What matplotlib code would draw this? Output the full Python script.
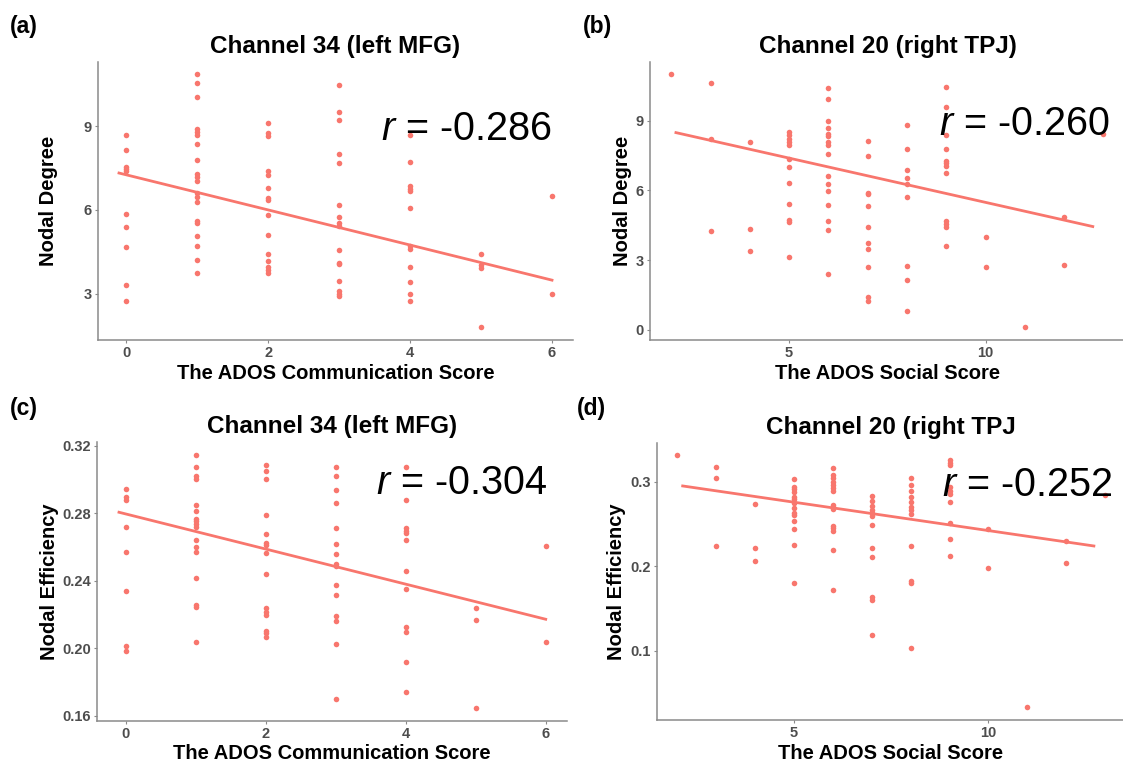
#!/usr/bin/env python3
"""
plot.py - four scatter panels: ADOS scores vs nodal degree / efficiency.
"""

import numpy as np
import matplotlib
matplotlib.use("Agg")
import matplotlib.pyplot as plt


# ─── dados ───────────────────────────────────────────────────────────────

# (a) Channel 34, communication score vs nodal degree
a_score = [0, 0, 0, 0, 0, 0, 0, 0, 0, 0,
           1, 1, 1, 1, 1, 1, 1, 1, 1, 1, 1, 1, 1, 1, 1, 1, 1, 1, 1, 1,
           2, 2, 2, 2, 2, 2, 2, 2, 2, 2, 2, 2, 2, 2, 2,
           3, 3, 3, 3, 3, 3, 3, 3, 3, 3, 3, 3, 3, 3, 3, 3,
           4, 4, 4, 4, 4, 4, 4, 4, 4, 4, 4, 4,
           5, 5, 5, 5,
           6, 6]
a_degree = [8.68, 8.16, 7.54, 7.48, 7.38, 5.86, 5.39, 4.67, 3.30, 2.74,
            10.85, 10.54, 10.03, 8.89, 8.79, 8.69, 8.34, 7.80, 7.30, 7.18,
            7.05, 6.61, 6.46, 6.30, 5.61, 5.54, 5.06, 4.71, 4.21, 3.73,
            9.10, 8.75, 8.63, 7.39, 7.25, 6.78, 6.42, 6.35, 5.81, 5.11,
            4.41, 4.17, 3.96, 3.85, 3.75,
            10.46, 9.51, 9.20, 8.01, 7.68, 6.17, 5.73, 5.54, 5.44, 4.56,
            4.12, 4.07, 3.46, 3.11, 3.01, 2.93,
            8.67, 7.71, 6.85, 6.76, 6.68, 6.07, 4.70, 4.62, 3.95, 3.41,
            3.01, 2.74,
            4.43, 4.03, 3.93, 1.80,
            6.51, 3.01]
# fitted line as drawn in the figure (end points)
a_fit_x = [-0.1, 6.0]
a_fit_y = [7.32, 3.49]

# (b) Channel 20, social score vs nodal degree
b_score = [2,
           3, 3, 3,
           4, 4, 4,
           5, 5, 5, 5, 5, 5, 5, 5, 5, 5, 5, 5,
           6, 6, 6, 6, 6, 6, 6, 6, 6, 6, 6, 6, 6, 6, 6, 6,
           7, 7, 7, 7, 7, 7, 7, 7, 7, 7, 7,
           8, 8, 8, 8, 8, 8, 8, 8, 8,
           9, 9, 9, 9, 9, 9, 9, 9, 9, 9, 9, 9,
           10, 10,
           11,
           12, 12,
           13]
b_degree = [11.00,
            10.63, 8.19, 4.24,
            8.06, 4.33, 3.38,
            8.50, 8.37, 8.22, 8.06, 7.95, 7.33, 6.98, 6.33, 5.41, 4.73,
            4.64, 3.11,
            10.39, 9.91, 9.00, 8.69, 8.42, 8.35, 8.09, 7.96, 7.55, 6.60,
            6.26, 5.99, 5.36, 4.66, 4.30, 2.41,
            8.11, 7.49, 5.90, 5.84, 5.31, 4.44, 3.75, 3.47, 2.71, 1.43, 1.22,
            8.81, 7.77, 6.88, 6.52, 6.26, 5.69, 2.76, 2.12, 0.79,
            10.46, 9.60, 8.38, 7.77, 7.28, 7.16, 7.05, 6.73, 4.66, 4.56,
            4.44, 3.62,
            4.01, 2.68,
            0.12,
            4.83, 2.79,
            8.41]
b_fit_x = [2.12, 12.73]
b_fit_y = [8.48, 4.44]

# (c) Channel 34, communication score vs nodal efficiency
c_score = [0, 0, 0, 0, 0, 0, 0, 0,
           1, 1, 1, 1, 1, 1, 1, 1, 1, 1, 1, 1, 1, 1, 1, 1, 1,
           2, 2, 2, 2, 2, 2, 2, 2, 2, 2, 2, 2, 2, 2, 2,
           3, 3, 3, 3, 3, 3, 3, 3, 3, 3, 3, 3, 3, 3, 3,
           4, 4, 4, 4, 4, 4, 4, 4, 4, 4, 4, 4,
           5, 5, 5,
           6, 6]
c_eff = [0.2947, 0.2900, 0.2880, 0.2718, 0.2572, 0.2339, 0.2017, 0.1983,
         0.3149, 0.3076, 0.3022, 0.3006, 0.2852, 0.2813, 0.2769, 0.2757,
         0.2738, 0.2722, 0.2643, 0.2603, 0.2574, 0.2418, 0.2258, 0.2248,
         0.2040,
         0.3084, 0.3054, 0.3004, 0.2793, 0.2679, 0.2623, 0.2612, 0.2564,
         0.2443, 0.2238, 0.2216, 0.2197, 0.2106, 0.2090, 0.2070,
         0.3077, 0.3022, 0.2939, 0.2860, 0.2716, 0.2619, 0.2562, 0.2499,
         0.2491, 0.2376, 0.2319, 0.2193, 0.2163, 0.2027, 0.1699,
         0.3073, 0.2880, 0.2712, 0.2696, 0.2683, 0.2641, 0.2459, 0.2353,
         0.2129, 0.2098, 0.1922, 0.1742,
         0.2238, 0.2169, 0.1649,
         0.2607, 0.2036]
c_fit_x = [-0.1, 6.0]
c_fit_y = [0.2807, 0.2173]

# (d) Channel 20, social score vs nodal efficiency
d_score = [2,
           3, 3, 3,
           4, 4, 4,
           5, 5, 5, 5, 5, 5, 5, 5, 5, 5, 5, 5, 5, 5,
           6, 6, 6, 6, 6, 6, 6, 6, 6, 6, 6, 6, 6, 6, 6,
           7, 7, 7, 7, 7, 7, 7, 7, 7, 7, 7, 7,
           8, 8, 8, 8, 8, 8, 8, 8, 8, 8, 8, 8,
           9, 9, 9, 9, 9, 9, 9, 9, 9, 9,
           10, 10,
           11,
           12, 12,
           13]
d_eff = [0.3324,
         0.3178, 0.3047, 0.2241,
         0.2743, 0.2213, 0.2067,
         0.3040, 0.2937, 0.2913, 0.2885, 0.2826, 0.2798, 0.2747, 0.2692,
         0.2632, 0.2609, 0.2537, 0.2439, 0.2256, 0.1798,
         0.3162, 0.3083, 0.3044, 0.3004, 0.2964, 0.2925, 0.2893, 0.2727,
         0.2700, 0.2676, 0.2478, 0.2451, 0.2419, 0.2190, 0.1723,
         0.2834, 0.2775, 0.2715, 0.2668, 0.2628, 0.2600, 0.2490, 0.2213,
         0.2114, 0.1639, 0.1600, 0.1185,
         0.3044, 0.2964, 0.2893, 0.2826, 0.2767, 0.2700, 0.2668, 0.2620,
         0.2241, 0.1826, 0.1798, 0.1034,
         0.3261, 0.3229, 0.3202, 0.2945, 0.2897, 0.2858, 0.2767, 0.2510,
         0.2320, 0.2122,
         0.2442, 0.1984,
         0.0327,
         0.2304, 0.2043,
         0.2846]
d_fit_x = [2.14, 12.71]
d_fit_y = [0.2953, 0.2241]

r_values = ["-0.286", "-0.260", "-0.304", "-0.252"]
titles = ["Channel 34 (left MFG)", "Channel 20 (right TPJ)",
          "Channel 34 (left MFG)", "Channel 20 (right TPJ"]
tags = ["(a)", "(b)", "(c)", "(d)"]


# ─── estilo ──────────────────────────────────────────────────────────────

plt.rcParams["font.family"] = ["Liberation Sans", "DejaVu Sans"]
plt.rcParams["mathtext.fontset"] = "custom"
plt.rcParams["mathtext.it"] = "Liberation Sans:italic"
plt.rcParams["mathtext.rm"] = "Liberation Sans"

POINT = "#F8766D"
SPINE = "#8a8a8a"
TICK_TXT = "#4D4D4D"

W, H = 1123, 762


def px_rect(left, top, right, bottom):
    return [left / W, 1 - bottom / H, (right - left) / W, (bottom - top) / H]


def panel(fig, rect, xs, ys, fit_x, fit_y, xlim, ylim, xticks, yticks, yfmt,
          title, xlabel, ylabel, ylab_x, r_text, r_xy, tag, tag_xy):
    ax = fig.add_axes(rect)

    ax.scatter(xs, ys, s=16, color=POINT, linewidths=0, zorder=2)
    ax.plot(fit_x, fit_y, color=POINT, lw=2.0, zorder=3)

    ax.set_xlim(*xlim)
    ax.set_ylim(*ylim)
    ax.set_xticks(xticks)
    ax.set_yticks(yticks)
    ax.set_yticklabels([yfmt.format(v) for v in yticks])

    for side in ("top", "right"):
        ax.spines[side].set_visible(False)
    for side in ("left", "bottom"):
        ax.spines[side].set_color(SPINE)
        ax.spines[side].set_linewidth(1.1)

    ax.tick_params(length=2, width=0.8, color=SPINE, pad=2.5,
                   labelsize=10.5, labelcolor=TICK_TXT)
    for lab in ax.get_xticklabels() + ax.get_yticklabels():
        lab.set_fontweight("bold")

    ax.set_title(title, fontsize=17.5, fontweight="bold", pad=6.5)
    ax.set_xlabel(xlabel, fontsize=14.5, fontweight="bold", labelpad=2.5)
    ax.set_ylabel(ylabel, fontsize=14.5, fontweight="bold")
    ax.yaxis.set_label_coords(ylab_x, 0.5)

    ax.text(r_xy[0], r_xy[1], r"$r$ = " + r_text, fontsize=28.5,
            ha="center", va="baseline", color="black", zorder=4)

    fig.text(tag_xy[0] / W, 1 - tag_xy[1] / H, tag, fontsize=16.5,
             fontweight="bold", ha="left", va="baseline")
    return ax


fig = plt.figure(figsize=(W / 100, H / 100), dpi=100)
fig.patch.set_facecolor("white")

panel(fig, px_rect(97.7, 61.7, 573.3, 340), a_score, a_degree,
      a_fit_x, a_fit_y,
      (-0.4, 6.3), (1.35, 11.3), [0, 2, 4, 6], [3, 6, 9], "{:g}",
      titles[0], "The ADOS Communication Score", "Nodal Degree", -0.084,
      r_values[0], (4.8, 8.49), tags[0], (10, 33))

panel(fig, px_rect(650, 61.7, 1125, 340), b_score, b_degree,
      b_fit_x, b_fit_y,
      (1.46, 13.55), (-0.44, 11.53), [5, 10], [0, 3, 6, 9], "{:g}",
      titles[1], "The ADOS Social Score", "Nodal Degree", -0.038,
      r_values[1], (11.0, 8.38), tags[1], (583, 33))

panel(fig, px_rect(97.3, 441.7, 566.7, 720.7), c_score, c_eff,
      c_fit_x, c_fit_y,
      (-0.41, 6.3), (0.1572, 0.3225), [0, 2, 4, 6],
      [0.16, 0.20, 0.24, 0.28, 0.32], "{:.2f}",
      titles[2], "The ADOS Communication Score", "Nodal Efficiency", -0.081,
      r_values[2], (4.8, 0.2916), tags[2], (10, 415))

panel(fig, px_rect(657, 442.7, 1125, 720), d_score, d_eff,
      d_fit_x, d_fit_y,
      (1.48, 13.51), (0.0177, 0.3466), [5, 10], [0.1, 0.2, 0.3], "{:.1f}",
      titles[3], "The ADOS Social Score", "Nodal Efficiency", -0.066,
      r_values[3], (11.0, 0.2834), tags[3], (577, 415))

fig.savefig("out.png", dpi=100, facecolor="white")
plt.close(fig)
